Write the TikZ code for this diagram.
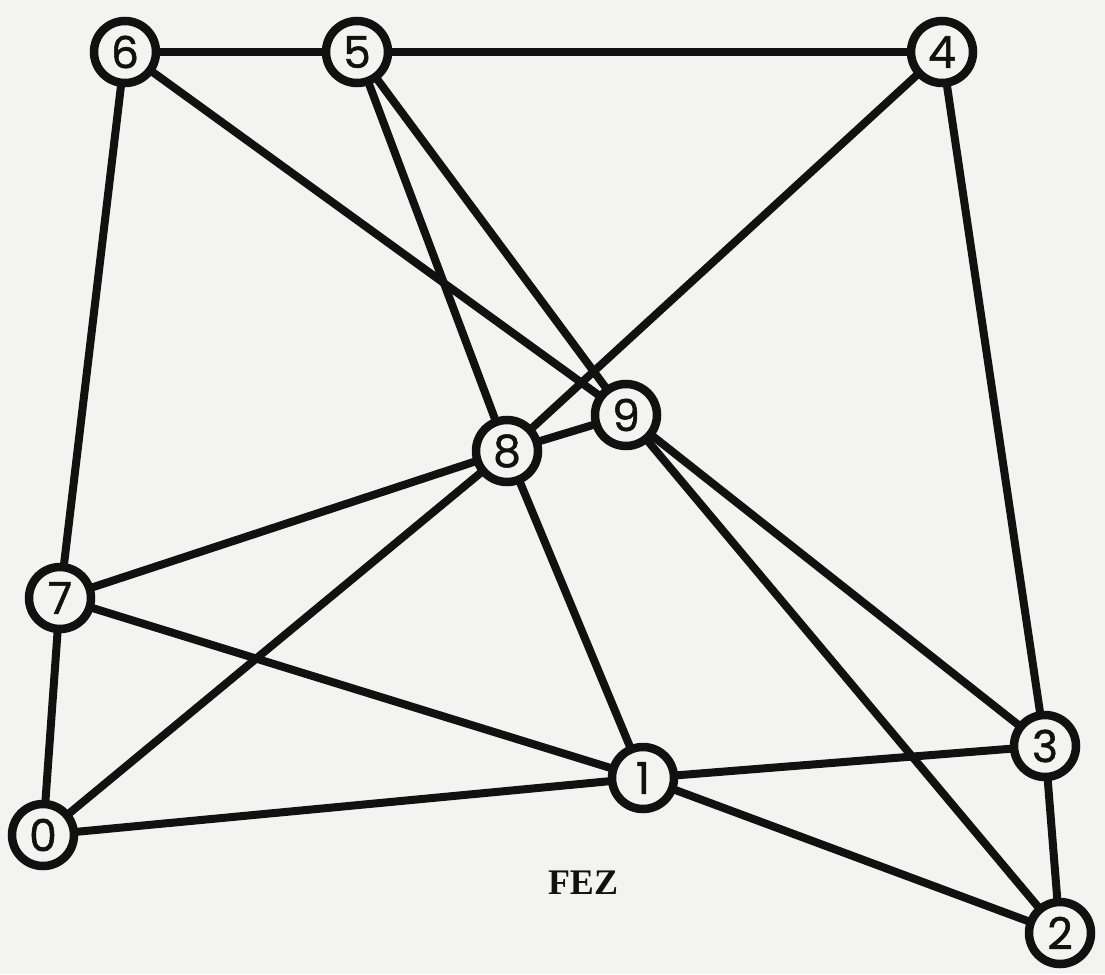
\documentclass[tikz,border=0pt]{standalone}
\usepackage{fontspec}
\setmainfont{Liberation Serif}
\newfontfamily\digitfont[FakeBold=1.2]{Poppins}
\definecolor{bg}{HTML}{F3F3F1}
\definecolor{ink}{HTML}{111111}
\begin{document}
\begin{tikzpicture}[x=1pt,y=-1pt,
  vert/.style={circle,draw=ink,line width=8.5pt,fill=bg,minimum size=62pt,inner sep=0pt,font=\digitfont\fontsize{44}{44}\selectfont,text=ink},
  edge/.style={draw=ink,line width=8pt}]
\fill[bg] (0,0) rectangle (1105,974);
\useasboundingbox (0,0) rectangle (1105,974);
\coordinate (p6) at (125,52);
\coordinate (p5) at (357,52);
\coordinate (p4) at (942,52);
\coordinate (p9) at (626,415);
\coordinate (p8) at (507,451);
\coordinate (p7) at (60,598);
\coordinate (p3) at (1045,746);
\coordinate (p1) at (643,778);
\coordinate (p0) at (43,835);
\coordinate (p2) at (1060,933);
\foreach \a/\b in {6/5,5/4,6/7,6/9,5/8,5/9,4/8,4/3,8/9,8/7,8/0,8/1,9/3,9/2,7/0,7/1,0/1,1/3,1/2,3/2}
  \draw[edge] (p\a) -- (p\b);
\foreach \n in {0,...,9}
  \node[vert] (n\n) at (p\n) {\n};
\node[font=\bfseries\fontsize{36}{36}\selectfont,text=ink] (fez) at (583,883) {FEZ};
\end{tikzpicture}
\end{document}
